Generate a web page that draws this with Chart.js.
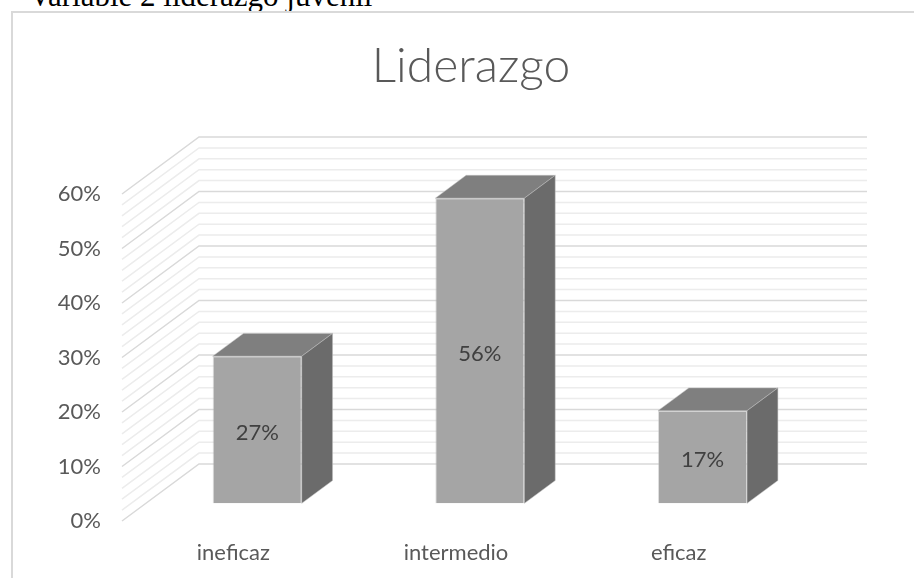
<!DOCTYPE html>
<html>
<head>
<meta charset="utf-8">
<script src="https://cdn.jsdelivr.net/npm/chart.js@4.4.1/dist/chart.umd.min.js"></script>
<style>
  html, body { margin: 0; padding: 0; background: #fff; overflow: hidden; }
  #wrap { position: relative; width: 914px; height: 578px; overflow: hidden; }
  #caption { position: absolute; left: 29px; top: -19px; font: 31px/30px "Liberation Serif", "Times New Roman", serif; color: #000; white-space: nowrap; }
  #frame { position: absolute; left: 11px; top: 11px; width: 920px; height: 600px; border: 2px solid #d9d9d9; box-sizing: border-box; }
  canvas { position: absolute; left: 0; top: 0; }
</style>
</head>
<body>
<div id="wrap">
  <div id="caption">Variable 2 liderazgo juvenil</div>
  <div id="frame"></div>
  <canvas id="chart" width="914" height="578"></canvas>
</div>
<script>
// chart data
const categories = ['ineficaz', 'intermedio', 'eficaz'];
const values = [0.27, 0.56, 0.17];
const valueLabels = ['27%', '56%', '17%'];
const yTickLabels = ['0%', '10%', '20%', '30%', '40%', '50%', '60%'];
const chartTitle = 'Liderazgo';

// fake 3D: depth vector of the floor and where the bars sit in it
const DEPTH = { x: 77, y: -57 };
const BAR_FRONT = 0.31;
const BAR_DEPTH = 0.4;
const FONT = 'Lato, "Open Sans", sans-serif';

const threeD = {
  id: 'threeD',
  beforeDatasetsDraw(chart) {
    const { ctx, chartArea: a, scales: { y } } = chart;
    ctx.save();
    ctx.lineWidth = 1.5;
    // minor lines first, majors on top
    [false, true].forEach(major => {
      ctx.strokeStyle = major ? '#d9d9d9' : '#ececec';
      for (let i = 0; i <= 30; i++) {
        if ((i % 5 === 0) !== major) continue;
        const py = y.getPixelForValue(i / 50);
        ctx.beginPath();
        ctx.moveTo(a.left, py);
        ctx.lineTo(a.left + DEPTH.x, py + DEPTH.y);
        ctx.lineTo(a.right + DEPTH.x, py + DEPTH.y);
        ctx.stroke();
      }
    });
    ctx.restore();
    // push the bar fronts back into the box
    ctx.save();
    ctx.translate(DEPTH.x * BAR_FRONT, DEPTH.y * BAR_FRONT);
  },
  afterDatasetsDraw(chart) {
    const ctx = chart.ctx;
    ctx.restore();
    const ox = DEPTH.x * BAR_FRONT, oy = DEPTH.y * BAR_FRONT;
    const dx = DEPTH.x * BAR_DEPTH, dy = DEPTH.y * BAR_DEPTH;
    const meta = chart.getDatasetMeta(0);
    meta.data.forEach((bar, i) => {
      const { x, y, base, width } = bar.getProps(['x', 'y', 'base', 'width'], true);
      const l = x - width / 2 + ox, r = x + width / 2 + ox;
      const t = y + oy, b = base + oy;
      ctx.save();
      ctx.strokeStyle = 'rgba(190,190,190,0.5)';
      ctx.lineWidth = 1;
      // top face
      ctx.fillStyle = '#7f7f7f';
      ctx.beginPath();
      ctx.moveTo(l, t); ctx.lineTo(l + dx, t + dy); ctx.lineTo(r + dx, t + dy); ctx.lineTo(r, t);
      ctx.closePath(); ctx.fill(); ctx.stroke();
      // side face
      ctx.fillStyle = '#6b6b6b';
      ctx.beginPath();
      ctx.moveTo(r, t); ctx.lineTo(r + dx, t + dy); ctx.lineTo(r + dx, b + dy); ctx.lineTo(r, b);
      ctx.closePath(); ctx.fill(); ctx.stroke();
      // value label
      ctx.fillStyle = '#404040';
      ctx.font = '22px ' + FONT;
      ctx.textAlign = 'center';
      ctx.textBaseline = 'middle';
      ctx.fillText(valueLabels[i], (l + r) / 2, (t + b) / 2 + 3);
      ctx.restore();
    });
  },
  afterDraw(chart) {
    const ctx = chart.ctx;
    ctx.save();
    ctx.fillStyle = '#595959';
    ctx.font = '300 48px ' + FONT;
    ctx.textAlign = 'center';
    ctx.textBaseline = 'alphabetic';
    ctx.fillText(chartTitle, 471, 82);
    ctx.restore();
  }
};

new Chart(document.getElementById('chart'), {
  type: 'bar',
  data: {
    labels: categories,
    datasets: [{
      data: values,
      backgroundColor: '#a5a5a5',
      borderColor: 'rgba(190,190,190,0.5)',
      borderWidth: 1,
      barPercentage: 0.4,
      categoryPercentage: 1,
      clip: false
    }]
  },
  plugins: [threeD],
  options: {
    responsive: false,
    animation: false,
    layout: { padding: { top: 194, right: 124, left: 0, bottom: 0 } },
    plugins: { legend: { display: false }, title: { display: false }, tooltip: { enabled: false } },
    scales: {
      x: {
        grid: { display: false },
        border: { display: false },
        ticks: { color: '#595959', font: { family: FONT, size: 22 }, padding: 11 },
        afterFit(scale) { scale.height = 57; }
      },
      y: {
        min: 0,
        max: 0.6,
        grid: { display: false },
        border: { display: false },
        ticks: {
          stepSize: 0.1,
          color: '#595959',
          font: { family: FONT, size: 22 },
          padding: 13,
          callback: (v, i) => yTickLabels[i]
        },
        afterFit(scale) { scale.width = 122; }
      }
    }
  }
});
</script>
</body>
</html>
